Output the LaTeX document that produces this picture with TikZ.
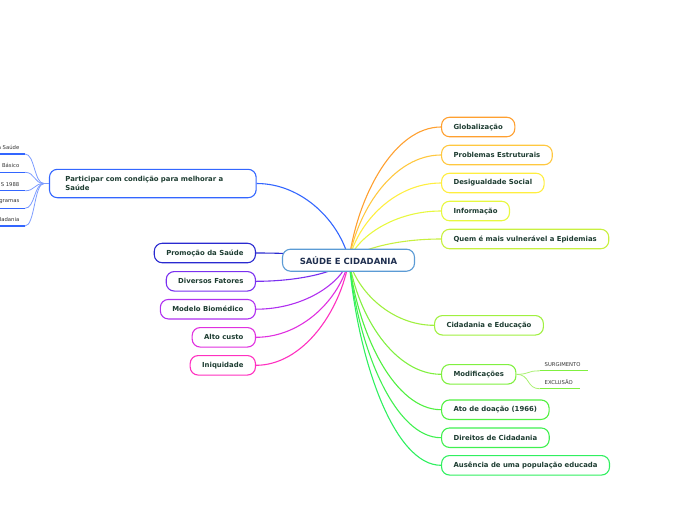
\documentclass[tikz,border=0pt]{standalone}
\usepackage{fontspec}
\setmainfont{DejaVu Sans}
\definecolor{txt}{HTML}{1E3D32}
\definecolor{ctxt}{HTML}{1F2F4F}
\definecolor{cmain}{HTML}{5B9BD5}
\definecolor{cpart}{HTML}{3366FF}
\definecolor{cpartl}{HTML}{7C9CFF}
\definecolor{cprom}{HTML}{2A2AD0}
\definecolor{cdiv}{HTML}{7A30F0}
\definecolor{cmod}{HTML}{B030F0}
\definecolor{calto}{HTML}{E030E0}
\definecolor{ciniq}{HTML}{FF30C0}
\definecolor{cglob}{HTML}{FFA030}
\definecolor{cprob}{HTML}{FFC840}
\definecolor{cdes}{HTML}{FFEE40}
\definecolor{cinf}{HTML}{E8F840}
\definecolor{cquem}{HTML}{C8F040}
\definecolor{ccid}{HTML}{A0F040}
\definecolor{cmodi}{HTML}{80F040}
\definecolor{cmodil}{HTML}{A8F070}
\definecolor{cato}{HTML}{50F040}
\definecolor{cdir}{HTML}{40F050}
\definecolor{caus}{HTML}{30F060}
\definecolor{subtxt}{HTML}{333333}
\begin{document}
\begin{tikzpicture}[x=1pt,y=-1pt,
  box/.style={draw, fill=white, rounded corners=8pt, line width=1.1pt,
    minimum height=19.5pt, inner xsep=12pt, inner ysep=0pt,
    font=\bfseries\fontsize{6.9}{8.5}\selectfont, text=txt},
  mainbox/.style={draw=cmain, fill=white, rounded corners=8pt, line width=1.1pt,
    minimum height=22pt, minimum width=132pt, inner ysep=0pt,
    font=\bfseries\fontsize{8.5}{10}\selectfont, text=ctxt},
  conn/.style={line width=1.1pt},
  thin/.style={line width=0.8pt},
  subtext/.style={font=\fontsize{5.3}{6}\selectfont, text=subtxt, inner sep=0pt}
]
\useasboundingbox (0,0) rectangle (696,520);
\coordinate (hub) at (349,260);

% ---------- right side nodes
\node[box, draw=cglob, anchor=west] (glob) at (441,127) {Globalização};
\node[box, draw=cprob, anchor=west] (prob) at (441,155) {Problemas Estruturais};
\node[box, draw=cdes, anchor=west] (des) at (441,183) {Desigualdade Social};
\node[box, draw=cinf, anchor=west] (inf) at (441,211) {Informação};
\node[box, draw=cquem, anchor=west] (quem) at (441,239) {Quem é mais vulnerável a Epidemias};
\node[box, draw=ccid, anchor=west] (cid) at (434,325.3) {Cidadania e Educação};
\node[box, draw=cmodi, anchor=west] (modi) at (441,374.3) {Modificações};
\node[box, draw=cato, anchor=west] (ato) at (441,409.7) {Ato de doação (1966)};
\node[box, draw=cdir, anchor=west] (dir) at (441,437.7) {Direitos de Cidadania};
\node[box, draw=caus, anchor=west] (aus) at (441,465.3) {Ausência de uma população educada};

% ---------- left side nodes
\node[box, draw=cpart, anchor=east, align=left, text width=174.7pt, minimum height=28.4pt, inner xsep=16pt] (part) at (256.7,183.5) {Participar com condição para melhorar a\\Saúde};
\node[box, draw=cprom, anchor=east] (prom) at (256,253) {Promoção da Saúde};
\node[box, draw=cdiv, anchor=east] (div) at (256,281.3) {Diversos Fatores};
\node[box, draw=cmod, anchor=east] (mod) at (256,309.2) {Modelo Biomédico};
\node[box, draw=calto, anchor=east] (alto) at (256,337.3) {Alto custo};
\node[box, draw=ciniq, anchor=east] (iniq) at (256,365.3) {Iniquidade};

% ---------- connectors from hub (behind main node)
\begin{scope}[conn]
\draw[cglob] (hub) .. controls +(9,-66) and +(-46,0) .. (glob.west);
\draw[cprob] (hub) .. controls +(9,-52) and +(-46,0) .. (prob.west);
\draw[cdes] (hub) .. controls +(9,-38) and +(-46,0) .. (des.west);
\draw[cinf] (hub) .. controls +(9,-24) and +(-46,0) .. (inf.west);
\draw[cquem] (hub) .. controls +(9,-10) and +(-46,0) .. (quem.west);
\draw[ccid] (hub) .. controls +(8.5,32) and +(-42,0) .. (cid.west);
\draw[cmodi] (hub) .. controls +(9,57) and +(-46,0) .. (modi.west);
\draw[cato] (hub) .. controls +(9,75) and +(-46,0) .. (ato.west);
\draw[cdir] (hub) .. controls +(9,89) and +(-46,0) .. (dir.west);
\draw[caus] (hub) .. controls +(9,103) and +(-46,0) .. (aus.west);
\draw[cpart] (hub) .. controls +(-9,-38) and +(46,0) .. (part.east);
\draw[cprom] (hub) .. controls +(-9,-3.5) and +(46,0) .. (prom.east);
\draw[cdiv] (hub) .. controls +(-9,11) and +(46,0) .. (div.east);
\draw[cmod] (hub) .. controls +(-9,25) and +(46,0) .. (mod.east);
\draw[calto] (hub) .. controls +(-9,39) and +(46,0) .. (alto.east);
\draw[ciniq] (hub) .. controls +(-9,53) and +(46,0) .. (iniq.east);
\end{scope}

% ---------- main node
\node[mainbox] (main) at (348.5,260.2) {SAÚDE E CIDADANIA};

% ---------- Modificações sub-items
\coordinate (s1a) at (540,370.8);
\coordinate (s1b) at (588,370.8);
\coordinate (s2a) at (540,388.8);
\coordinate (s2b) at (580,388.8);
\node[subtext, anchor=west] (surg) at (544.5,365) {SURGIMENTO};
\node[subtext, anchor=west] (excl) at (544.5,382.4) {EXCLUSÃO};
\draw[thin, cmodil] (modi.east) .. controls +(14,0) and +(-14,0) .. (s1a);
\draw[thin, cmodil] (modi.east) .. controls +(14,0) and +(-14,0) .. (s2a);
\draw[conn, cmodi] (s1a) -- (s1b);
\draw[conn, cmodi] (s2a) -- (s2b);

% ---------- Participar sub-items (cut at the left edge, as in the reference)
\coordinate (phub) at (44,183.5);
\draw[thin, cpartl] (part.west) -- (phub);
\foreach \i/\y/\t in {1/154/a Saúde, 2/172.3/Básico, 3/190.8/S 1988, 4/208.3/gramas, 5/226/dadania}{
  \coordinate (pa\i) at (0,\y);
  \coordinate (pb\i) at (25,\y);
  \node[subtext, anchor=east] (pt\i) at (19.5,\y-6.6) {\t};
  \draw[thin, cpartl] (phub) .. controls +(-10,0) and +(10,0) .. (pb\i);
  \draw[conn, cpart] (pa\i) -- (pb\i);
}
\end{tikzpicture}
\end{document}
